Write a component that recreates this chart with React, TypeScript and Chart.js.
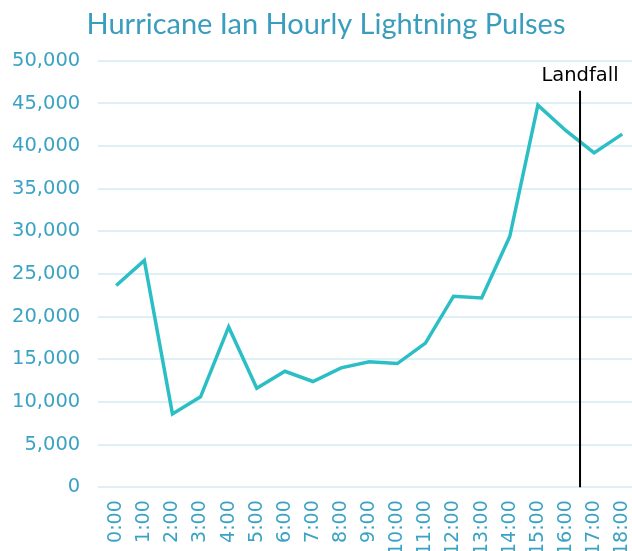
import React, { useEffect, useRef } from "react";
import { Chart, registerables } from "chart.js";

Chart.register(...registerables);

const hours = ["0:00","1:00","2:00","3:00","4:00","5:00","6:00","7:00","8:00","9:00","10:00","11:00","12:00","13:00","14:00","15:00","16:00","17:00","18:00"];
const pulses = [23650, 26600, 8600, 10600, 18800, 11600, 13600, 12400, 14000, 14700, 14500, 16900, 22400, 22200, 29400, 44800, 41800, 39200, 41400];
const landfallHour = 16.5;
const landfallLabel = "Landfall";
const landfallTop = 46500;
const landfallTextY = 48200;
const titleText = "Hurricane Ian Hourly Lightning Pulses";

const TITLE_FONT = "Lato";
const TICK_FONT = "DejaVu Sans";
const TEAL = "#2BBFC5";
const TICK = "#3AA3C4";

export default function App() {
  const ref = useRef<HTMLCanvasElement | null>(null);
  useEffect(() => {
    document.body.style.margin = "0";
    document.body.style.overflow = "hidden";
    const landfallPlugin = {
      id: "landfall",
      afterDatasetsDraw(chart: any) {
        const { ctx, scales } = chart;
        const x = scales.x.getPixelForValue(landfallHour);
        const yTop = scales.y.getPixelForValue(landfallTop);
        const yBot = scales.y.getPixelForValue(0);
        ctx.save();
        ctx.strokeStyle = "#000";
        ctx.lineWidth = 2;
        ctx.beginPath();
        ctx.moveTo(x, yTop);
        ctx.lineTo(x, yBot);
        ctx.stroke();
        ctx.fillStyle = "#000";
        ctx.font = `19.5px "${TICK_FONT}"`;
        ctx.textAlign = "center";
        ctx.textBaseline = "middle";
        ctx.fillText(landfallLabel, x, scales.y.getPixelForValue(landfallTextY));
        ctx.restore();
      },
    };
    const chart = new Chart(ref.current!, {
      type: "line",
      data: {
        datasets: [
          {
            data: pulses.map((v, i) => ({ x: i, y: v })),
            borderColor: TEAL,
            borderWidth: 3.5,
            pointRadius: 0,
            tension: 0,
            fill: false,
          },
        ],
      },
      options: {
        animation: false,
        responsive: false,
        layout: { padding: { left: -6, right: 0, top: 0, bottom: -17 } },
        plugins: {
          legend: { display: false },
          tooltip: { enabled: false },
          title: {
            display: true,
            text: titleText,
            color: "#3A9DBE",
            font: { family: TITLE_FONT, size: 29, weight: "normal" },
            padding: { top: 7, bottom: 19 },
          },
        },
        scales: {
          x: {
            type: "linear",
            min: -0.64,
            max: 18.36,
            grid: { display: false, drawTicks: false },
            border: { display: false },
            afterBuildTicks: (scale: any) => {
              scale.ticks = hours.map((_, i) => ({ value: i }));
            },
            ticks: {
              autoSkip: false,
              maxRotation: 90,
              minRotation: 90,
              color: TICK,
              padding: 13,
              font: { family: TICK_FONT, size: 19 },
              callback: (v: any) => hours[v] ?? "",
            },
          },
          y: {
            min: 0,
            max: 50000,
            border: { display: false },
            grid: { color: "#DDF0F6", lineWidth: 2, drawTicks: false },
            ticks: {
              stepSize: 5000,
              color: TICK,
              padding: 18,
              font: { family: TICK_FONT, size: 19.5 },
              callback: (v: any) => Number(v).toLocaleString("en-US"),
            },
          },
        },
      },
      plugins: [landfallPlugin],
    });
    return () => chart.destroy();
  }, []);
  return (
    <div style={{ width: 632, height: 551, overflow: "hidden" }}>
      <canvas ref={ref} width={658} height={551} style={{ display: "block" }} />
    </div>
  );
}
